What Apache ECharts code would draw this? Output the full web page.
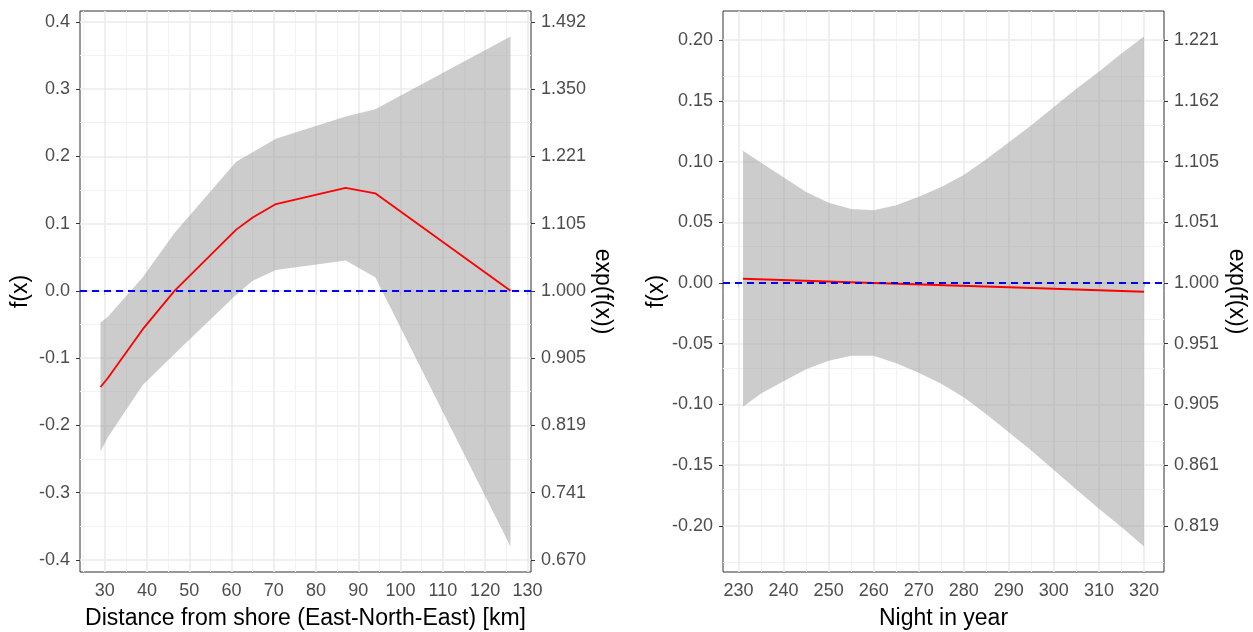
<!DOCTYPE html>
<html>
<head>
<meta charset="utf-8">
<script src="https://cdn.jsdelivr.net/npm/echarts@6/dist/echarts.min.js"></script>
<style>
html,body{margin:0;padding:0;background:#fff;}
#chart{width:1253px;height:632px;}
</style>
</head>
<body>
<div id="chart"></div>
<script>
// ---------- Data: left panel (distance from shore) ----------
const distX     = [29, 30.7, 39, 46.5, 61.1, 65, 70.5, 87, 94, 126];
const distFit   = [-0.143, -0.130, -0.057, 0.0, 0.091, 0.109, 0.129, 0.153, 0.145, 0.0];
const distUpper = [-0.047, -0.039, 0.020, 0.086, 0.192, 0.206, 0.226, 0.259, 0.270, 0.378];
const distLower = [-0.239, -0.218, -0.140, -0.094, -0.006, 0.015, 0.031, 0.045, 0.020, -0.380];

// ---------- Data: right panel (night in year) ----------
const nightX     = [231, 235, 240, 245, 250, 255, 260, 265, 270, 275, 280, 285, 290, 295, 300, 305, 310, 315, 320];
const nightUpper = [0.109, 0.099, 0.087, 0.075, 0.066, 0.061, 0.060, 0.064, 0.071, 0.079, 0.089, 0.102, 0.116, 0.130, 0.145, 0.160, 0.174, 0.189, 0.203];
const nightLower = [-0.102, -0.091, -0.081, -0.071, -0.064, -0.060, -0.060, -0.066, -0.074, -0.083, -0.094, -0.108, -0.123, -0.138, -0.154, -0.170, -0.186, -0.201, -0.217];
const nightFitX  = [231, 260, 290, 320];
const nightFit   = [0.0035, 0.0, -0.0035, -0.0072];

// ---------- Axis ticks & labels ----------
const distXTicks   = [30, 40, 50, 60, 70, 80, 90, 100, 110, 120, 130];
const distYTicks   = [-0.4, -0.3, -0.2, -0.1, 0.0, 0.1, 0.2, 0.3, 0.4];
const distYLabels  = ['-0.4', '-0.3', '-0.2', '-0.1', '0.0', '0.1', '0.2', '0.3', '0.4'];
const distExpLabels = ['0.670', '0.741', '0.819', '0.905', '1.000', '1.105', '1.221', '1.350', '1.492'];

const nightXTicks  = [230, 240, 250, 260, 270, 280, 290, 300, 310, 320];
const nightYTicks  = [-0.20, -0.15, -0.10, -0.05, 0.00, 0.05, 0.10, 0.15, 0.20];
const nightYLabels = ['-0.20', '-0.15', '-0.10', '-0.05', '0.00', '0.05', '0.10', '0.15', '0.20'];
const nightExpLabels = ['0.819', '0.861', '0.905', '0.951', '1.000', '1.051', '1.105', '1.162', '1.221'];

// axis limits (ggplot default 5% expansion)
const distXLim  = [24.15, 130.85];
const distYLim  = [-0.418, 0.416];
const nightXLim = [226.55, 324.45];
const nightYLim = [-0.238, 0.224];

const distXMinor  = [25, 35, 45, 55, 65, 75, 85, 95, 105, 115, 125];
const distYMinor  = [-0.35, -0.25, -0.15, -0.05, 0.05, 0.15, 0.25, 0.35];
const nightXMinor = [235, 245, 255, 265, 275, 285, 295, 305, 315];
const nightYMinor = [-0.225, -0.175, -0.125, -0.075, -0.025, 0.025, 0.075, 0.125, 0.175];

// ---------- helpers ----------
const FONT = 'Liberation Sans, Arial, sans-serif';
const TICK_COLOR = '#4d4d4d';
function lookup(ticks, labels) {
  return function (v) {
    for (let i = 0; i < ticks.length; i++) if (Math.abs(ticks[i] - v) < 1e-9) return labels[i];
    return '';
  };
}
function pairs(xs, ys) { return xs.map((x, i) => [x, ys[i]]); }
function bandRows(xs, lo, hi) { return xs.map((x, i) => [x, lo[i], hi[i]]); }

const majorStyle = { color: '#ebebeb', width: 1.6, type: 'solid' };
const minorStyle = { color: '#f3f3f3', width: 1, type: 'solid' };
function gridLines(xMaj, xMin, yMaj, yMin) {
  const d = [];
  xMin.forEach(v => d.push({ xAxis: v, lineStyle: minorStyle }));
  yMin.forEach(v => d.push({ yAxis: v, lineStyle: minorStyle }));
  xMaj.forEach(v => d.push({ xAxis: v, lineStyle: majorStyle }));
  yMaj.forEach(v => d.push({ yAxis: v, lineStyle: majorStyle }));
  return d;
}

function xAxisCfg(grid, lim, ticks, name) {
  return {
    type: 'value', gridIndex: grid, min: lim[0], max: lim[1],
    axisLine: { show: false },
    axisTick: { show: true, length: 4, customValues: ticks, lineStyle: { color: '#333', width: 1 } },
    axisLabel: { customValues: ticks, margin: 10, color: TICK_COLOR, fontSize: 18, fontFamily: FONT },
    splitLine: { show: false },
    name: name, nameLocation: 'middle', nameGap: 35,
    nameTextStyle: { color: '#000', fontSize: 23, fontFamily: FONT }
  };
}
function yAxisCfg(grid, lim, ticks, labels, pos, name, gap) {
  return {
    type: 'value', gridIndex: grid, min: lim[0], max: lim[1], position: pos,
    axisLine: { show: false },
    axisTick: { show: true, length: 4, customValues: ticks, lineStyle: { color: '#333', width: 1 } },
    axisLabel: { customValues: ticks, margin: 10, color: TICK_COLOR, fontSize: 18, fontFamily: FONT,
                 formatter: lookup(ticks, labels) },
    splitLine: { show: false },
    name: name, nameLocation: 'middle', nameGap: gap,
    nameRotate: pos === 'right' ? -90 : 90,
    nameTextStyle: { color: '#000', fontSize: 23, fontFamily: FONT }
  };
}

function bandRenderer(rows) {
  return function (params, api) {
    if (params.dataIndex !== 0) return null;
    const pts = [];
    rows.forEach(r => pts.push(api.coord([r[0], r[2]])));
    for (let i = rows.length - 1; i >= 0; i--) pts.push(api.coord([rows[i][0], rows[i][1]]));
    return {
      type: 'polygon',
      shape: { points: pts },
      style: { fill: 'rgba(153,153,153,0.5)', stroke: null }
    };
  };
}

function panelSeries(xi, yi, xs, lo, hi, fitX, fit, xMaj, xMin, yMaj, yMin) {
  const rows = bandRows(xs, lo, hi);
  return [
    {
      type: 'custom', xAxisIndex: xi, yAxisIndex: yi, data: rows,
      encode: { x: 0, y: [1, 2] }, renderItem: bandRenderer(rows), silent: true, z: 2, clip: true,
      markLine: { silent: true, symbol: 'none', z: 1, label: { show: false }, animation: false,
                  data: gridLines(xMaj, xMin, yMaj, yMin) }
    },
    {
      type: 'line', xAxisIndex: xi, yAxisIndex: yi, data: pairs(fitX, fit), symbol: 'none',
      lineStyle: { color: '#ff0000', width: 1.8 }, z: 3, silent: true,
      markLine: { silent: true, symbol: 'none', z: 6, label: { show: false }, animation: false,
                  data: [{ yAxis: 0, lineStyle: { color: '#0000ff', width: 1.8, type: [7, 5] } }] }
    }
  ];
}

const gridBase = { top: 11, height: 561, show: true, borderColor: '#333', borderWidth: 1,
                   backgroundColor: 'transparent', containLabel: false, outerBoundsMode: 'none' };

const option = {
  animation: false,
  backgroundColor: '#ffffff',
  grid: [
    Object.assign({}, gridBase, { left: 80, width: 451 }),
    Object.assign({}, gridBase, { left: 723, width: 441 })
  ],
  xAxis: [
    xAxisCfg(0, distXLim, distXTicks, 'Distance from shore (East-North-East) [km]'),
    xAxisCfg(1, nightXLim, nightXTicks, 'Night in year')
  ],
  yAxis: [
    yAxisCfg(0, distYLim, distYTicks, distYLabels, 'left', 'f(x)', 48),
    yAxisCfg(0, distYLim, distYTicks, distExpLabels, 'right', 'exp(f(x))', 60),
    yAxisCfg(1, nightYLim, nightYTicks, nightYLabels, 'left', 'f(x)', 47),
    yAxisCfg(1, nightYLim, nightYTicks, nightExpLabels, 'right', 'exp(f(x))', 61)
  ],
  series: [].concat(
    panelSeries(0, 0, distX, distLower, distUpper, distX, distFit, distXTicks, distXMinor, distYTicks, distYMinor),
    panelSeries(1, 2, nightX, nightLower, nightUpper, nightFitX, nightFit, nightXTicks, nightXMinor, nightYTicks, nightYMinor)
  )
};

const chart = echarts.init(document.getElementById('chart'), null, { renderer: 'canvas' });
chart.setOption(option);
</script>
</body>
</html>
